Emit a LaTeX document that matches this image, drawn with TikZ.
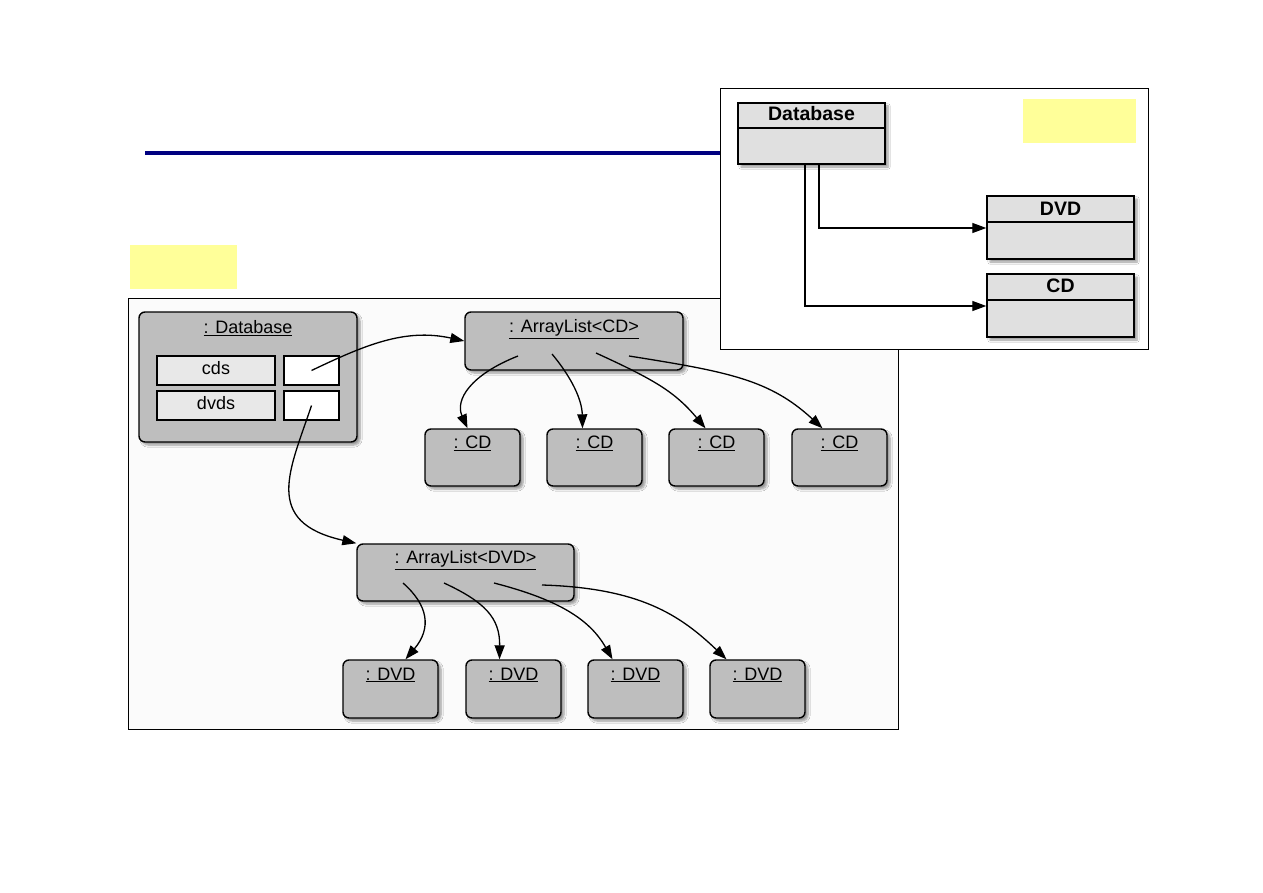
\documentclass[tikz,border=0pt]{standalone}
\usepackage{fontspec}
\setmainfont{Liberation Sans}
\usetikzlibrary{arrows.meta,shadows.blur}
\definecolor{objgray}{RGB}{190,190,190}
\definecolor{classgray}{RGB}{224,224,224}
\definecolor{fieldgray}{RGB}{232,232,232}
\definecolor{panelbg}{RGB}{251,251,251}
\definecolor{noteyellow}{RGB}{255,255,153}
\definecolor{navyline}{RGB}{0,0,128}
\begin{document}
\begin{tikzpicture}[x=1pt,y=-1pt,
  obj/.style={draw=black, line width=1.4pt, rounded corners=6pt, fill=objgray, inner sep=0pt,
    blur shadow={shadow xshift=3pt, shadow yshift=-3pt, shadow blur steps=6, shadow opacity=40}},
  cls/.style={draw=black, line width=1.4pt, fill=classgray, inner sep=0pt,
    blur shadow={shadow xshift=3pt, shadow yshift=-3pt, shadow blur steps=6, shadow opacity=40}},
  field/.style={draw=black, line width=1.4pt, fill=fieldgray, inner sep=0pt, minimum width=118pt, minimum height=29pt, text depth=6pt, font=\fontsize{18}{20}\selectfont},
  valbox/.style={draw=black, line width=1.4pt, fill=white, inner sep=0pt, minimum width=55pt, minimum height=29pt},
  otitle/.style={inner sep=0pt, font=\fontsize{18}{20}\selectfont},
  ctitle/.style={inner sep=0pt, font=\fontsize{19.5}{22}\selectfont\bfseries},
  arr/.style={draw=black, line width=1.3pt, -{Triangle[length=14pt,width=10pt]}},
  note/.style={fill=noteyellow, inner sep=0pt},
  panel/.style={draw=black, line width=1pt}
]
\useasboundingbox (0,0) rectangle (1263,893);
\fill[white] (0,0) rectangle (1263,893);

% title rule
\draw[navyline, line width=4pt] (145,153) -- (720,153);

% left note
\node[note, minimum width=107pt, minimum height=44pt] (noteL) at (183.5,267) {};

% main object panel
\node[panel, fill=panelbg, minimum width=770pt, minimum height=431pt, inner sep=0pt] (mainp) at (513,513.5) {};

% :Database object
\node[obj, minimum width=218pt, minimum height=130pt] (db) at (248,377) {};
\node[otitle] (dbt) at (248,328) {\underline{: Database}};
\node[field] (cds) at (216,370.5) {cds};
\node[valbox] (cdsv) at (311.5,370.5) {};
\node[field] (dvds) at (216,405.5) {dvds};
\node[valbox] (dvdsv) at (311.5,405.5) {};

% ArrayList<CD>
\node[obj, minimum width=218pt, minimum height=58pt] (alcd) at (574,341) {};
\node[otitle] (alcdt) at (574,329) {\underline{: ArrayList<CD>}};
\foreach \i/\x in {1/472.5,2/594.5,3/716.5,4/839.5}{
  \node[obj, minimum width=95pt, minimum height=57pt] (cd\i) at (\x,457.5) {};
  \node[otitle] (cd\i t) at (\x,443) {\underline{: CD}};
}

% ArrayList<DVD>
\node[obj, minimum width=217pt, minimum height=57pt] (aldvd) at (465.5,572.5) {};
\node[otitle] (aldvdt) at (465.5,560) {\underline{: ArrayList<DVD>}};
\foreach \i/\x in {1/390.5,2/513.5,3/635.5,4/757.5}{
  \node[obj, minimum width=95pt, minimum height=58pt] (dvd\i) at (\x,689) {};
  \node[otitle] (dvd\i t) at (\x,675) {\underline{: DVD}};
}

% connectors in object diagram
\draw[arr] (cdsv.center) .. controls (365,345) and (405,328) .. (alcd.west);
\draw[arr] (dvdsv.center) .. controls (290,470) and (262,522) .. (aldvd.north west);

\coordinate (a1) at (518,356);
\coordinate (a2) at (552,354);
\coordinate (a3) at (596,353);
\coordinate (a4) at (629,356);
\draw[arr] (a1) .. controls (470,375) and (455,400) .. ([xshift=-5pt]cd1.north);
\draw[arr] (a2) .. controls (572,378) and (582,400) .. ([xshift=-12pt]cd2.north);
\draw[arr] (a3) .. controls (655,380) and (675,392) .. ([xshift=-11pt]cd3.north);
\draw[arr] (a4) .. controls (730,372) and (770,380) .. ([xshift=-17pt]cd4.north);

\coordinate (b1) at (403,583);
\coordinate (b2) at (444,583);
\coordinate (b3) at (494,583);
\coordinate (b4) at (542,585);
\draw[arr] (b1) .. controls (428,605) and (432,628) .. ([xshift=15pt]dvd1.north);
\draw[arr] (b2) .. controls (485,602) and (500,618) .. ([xshift=-14pt]dvd2.north);
\draw[arr] (b3) .. controls (560,600) and (590,620) .. ([xshift=-23pt]dvd3.north);
\draw[arr] (b4) .. controls (640,588) and (680,615) .. ([xshift=-31pt]dvd4.north);

% class diagram panel
\node[panel, fill=white, minimum width=428pt, minimum height=260pt, inner sep=0pt] (classp) at (934,219) {};
\node[note, minimum width=113pt, minimum height=44pt] (noteR) at (1079.5,121) {};

\node[cls, minimum width=147pt, minimum height=61pt] (cDb) at (811.5,133.5) {};
\draw[line width=1.2pt] (cDb.west |- 0,128) -- (cDb.east |- 0,128);
\node[ctitle] (cDbt) at (811.5,114) {Database};

\node[cls, minimum width=147pt, minimum height=63pt] (cDvd) at (1060.5,227.5) {};
\draw[line width=1.2pt] (cDvd.west |- 0,222) -- (cDvd.east |- 0,222);
\node[ctitle] (cDvdt) at (1060.5,209) {DVD};

\node[cls, minimum width=147pt, minimum height=63pt] (cCd) at (1060.5,305.5) {};
\draw[line width=1.2pt] (cCd.west |- 0,300) -- (cCd.east |- 0,300);
\node[ctitle] (cCdt) at (1060.5,286) {CD};

\coordinate (k1) at (819,164);
\coordinate (k2) at (805,164);
\draw[arr] (k1) |- (cDvd.west |- 0,228);
\draw[arr] (k2) |- (cCd.west |- 0,306);
\end{tikzpicture}
\end{document}
